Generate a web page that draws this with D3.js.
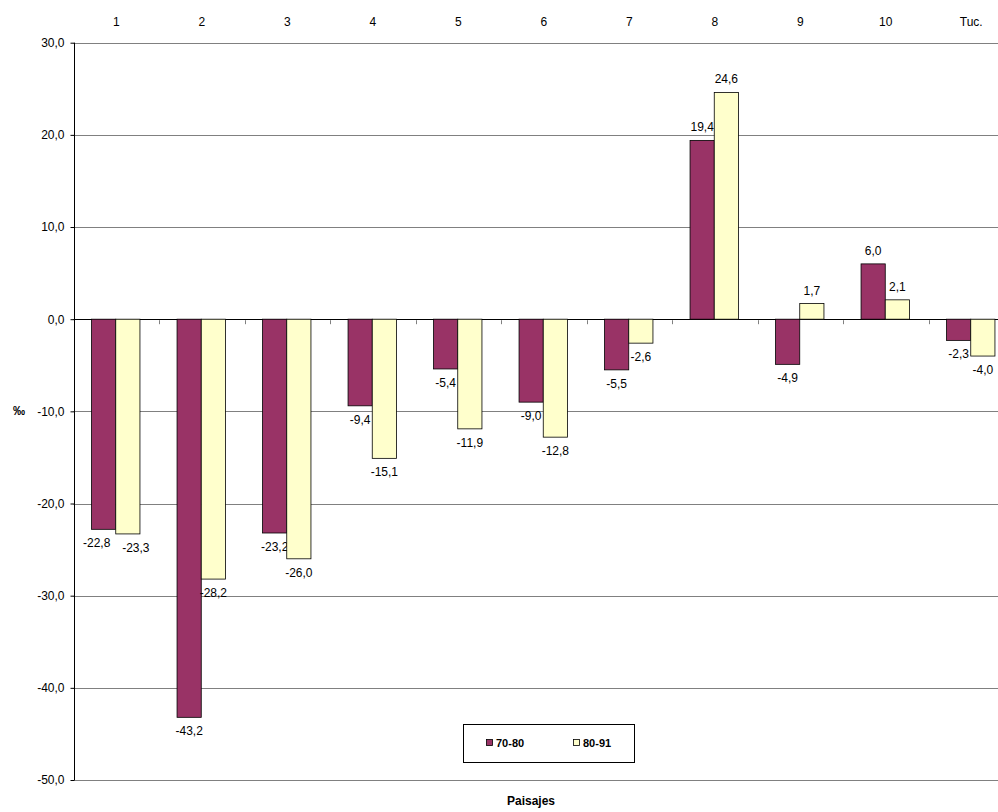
<!DOCTYPE html>
<html><head><meta charset="utf-8">
<script src="https://cdn.jsdelivr.net/npm/d3@7"></script>
<style>body{margin:0;background:#fff;}svg{display:block;font-family:Arial,"Liberation Sans",sans-serif;}</style>
</head><body><svg id="c" width="998" height="812"></svg>
<script>
const categories = ["1","2","3","4","5","6","7","8","9","10","Tuc."];
const series70_80 = [-22.8,-43.2,-23.2,-9.4,-5.4,-9.0,-5.5,19.4,-4.9,6.0,-2.3];
const series80_91 = [-23.3,-28.2,-26.0,-15.1,-11.9,-12.8,-2.6,24.6,1.7,2.1,-4.0];
const seriesNames = ["70-80","80-91"];
const yTicks = [30,20,10,0,-10,-20,-30,-40,-50];
const colors = ["#993366","#FFFFCC"];

const svg = d3.select("#c");
const left = 73.5, bandW = 85.5;
const x = d3.scaleBand().domain(categories).range([left, left + bandW*categories.length]).paddingInner(0).paddingOuter(0);
const y = d3.scaleLinear().domain([-50,30]).range([780,42.7]);
const fmt = v => d3.format(".1f")(v).replace(".", ",").replace("−","-");

// gridlines
svg.append("g").selectAll("line").data(yTicks).join("line")
  .attr("x1", left).attr("x2", 998)
  .attr("y1", d => Math.round(y(d))+0.5).attr("y2", d => Math.round(y(d))+0.5)
  .attr("stroke", d => d===0 ? "#000" : "#808080").attr("stroke-width",1);

// y axis
const yAxis = d3.axisLeft(y).tickValues(yTicks).tickSize(4).tickPadding(6).tickFormat(fmt);
const ga = svg.append("g").attr("transform", `translate(${Math.round(left)+0.5},0)`).call(yAxis);
ga.select(".domain").attr("stroke","#000").attr("d", `M0,${y(30)}V${y(-50)}`);
ga.selectAll(".tick line").attr("stroke","#000");
ga.selectAll(".tick text").attr("font-size",12).attr("fill","#000").attr("font-family","Arial, 'Liberation Sans', sans-serif");

// category labels top
svg.append("g").selectAll("text").data(categories).join("text")
  .attr("x", d => x(d) + x.bandwidth()/2).attr("y", 26)
  .attr("text-anchor","middle").attr("font-size",12).text(d => d);

// x ticks on zero line between categories
svg.append("g").selectAll("line").data(categories.slice(1)).join("line")
  .attr("x1", d => Math.round(x(d))+0.5).attr("x2", d => Math.round(x(d))+0.5)
  .attr("y1", y(0)+1).attr("y2", y(0)+5).attr("stroke","#808080");

// bars
const xs = d3.scaleBand().domain([0,1]).range([0, 48.4]);
const off = (bandW - 48.4)/2 - 0.5;
const all = [series70_80, series80_91];
const labelY = d => d >= 0 ? y(d) - 9 : y(d) + 18;
all.forEach((vals, si) => {
  const g = svg.append("g");
  g.selectAll("rect").data(vals).join("rect")
    .attr("x", (d,i) => x(categories[i]) + off + xs(si))
    .attr("width", xs.bandwidth())
    .attr("y", d => y(Math.max(0,d)))
    .attr("height", d => Math.abs(y(d)-y(0)))
    .attr("fill", colors[si]).attr("stroke","#000").attr("stroke-width",0.8);
  g.selectAll("text").data(vals).join("text")
    .attr("x", (d,i) => {
      const cx = x(categories[i]) + off + xs(si) + xs.bandwidth()/2;
      // spread apart labels of a category that would collide
      const clash = Math.abs(labelY(series70_80[i]) - labelY(series80_91[i])) < 14;
      return clash ? cx + (si === 0 ? -7 : 8) : cx;
    })
    .attr("y", d => labelY(d))
    .attr("text-anchor","middle").attr("font-size",12).text(d => fmt(d));
});

// y label
svg.append("text").attr("x",19).attr("y",415).attr("text-anchor","middle")
  .attr("font-size",12).attr("font-weight","bold").text("‰");
// x title
svg.append("text").attr("x",531).attr("y",805).attr("text-anchor","middle")
  .attr("font-size",12).attr("font-weight","bold").text("Paisajes");

// legend
const lg = svg.append("g");
lg.append("rect").attr("x",463.5).attr("y",724.5).attr("width",171).attr("height",38)
  .attr("fill","#fff").attr("stroke","#000").attr("stroke-width",1);
const lx = [486, 573];
seriesNames.forEach((n,i) => {
  lg.append("rect").attr("x",lx[i]+0.5).attr("y",739.5).attr("width",6).attr("height",6)
    .attr("fill",colors[i]).attr("stroke","#000").attr("stroke-width",0.8);
  lg.append("text").attr("x",lx[i]+10).attr("y",747).attr("font-size",11)
    .attr("font-weight","bold").text(n);
});
</script></body></html>
